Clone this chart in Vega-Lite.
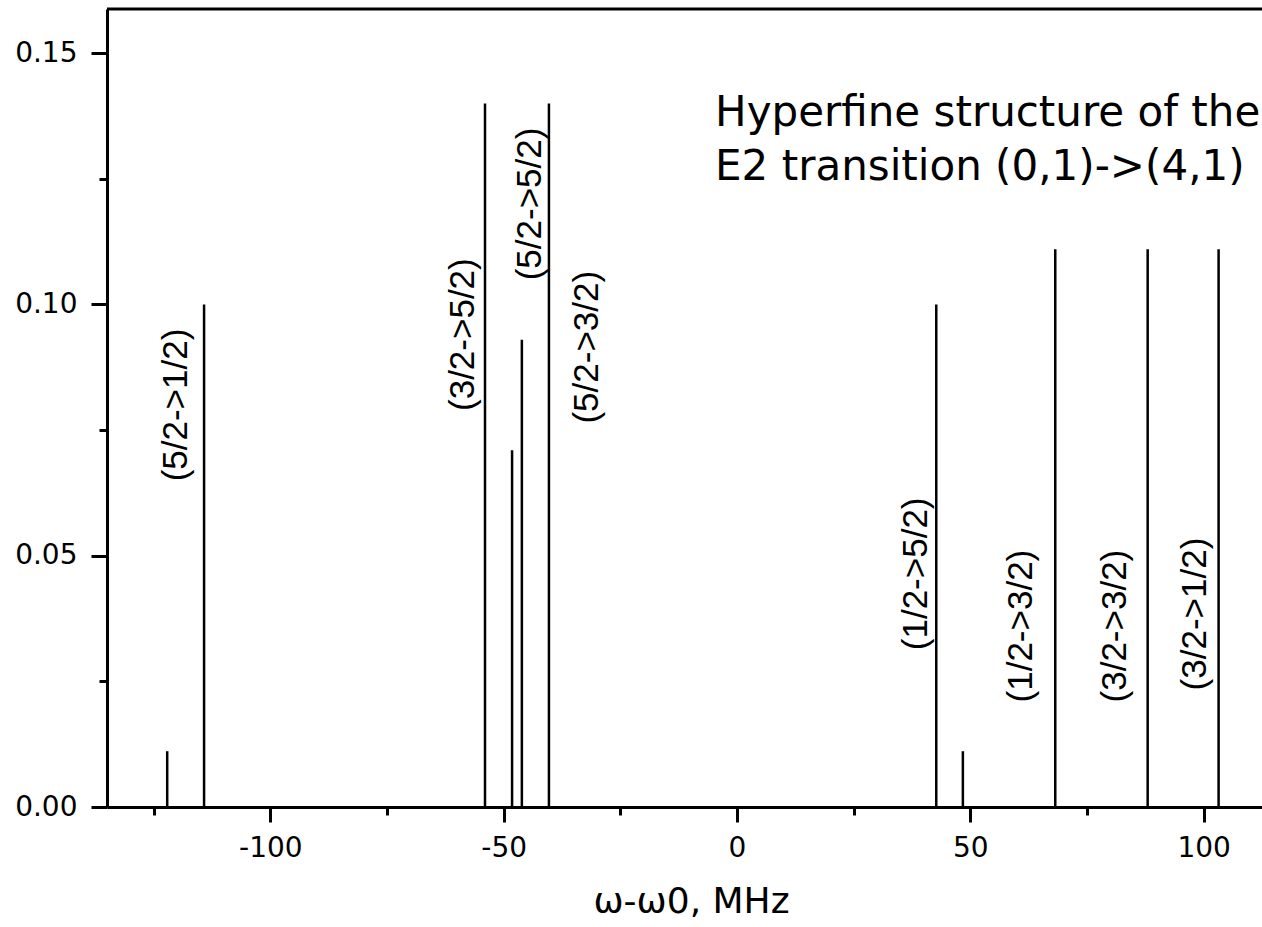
{
  "$schema": "https://vega.github.io/schema/vega-lite/v6.json",
  "width": 1155,
  "height": 798,
  "autosize": {"type": "none"},
  "padding": {"left": 107, "top": 9, "right": 0, "bottom": 120},
  "background": "white",
  "config": {
    "view": {"stroke": null},
    "axis": {"grid": false, "domainColor": "black", "tickColor": "black", "labelColor": "black", "titleColor": "black", "labelFont": "DejaVu Sans", "titleFont": "DejaVu Sans", "tickWidth": 3, "domainWidth": 3}
  },
  "datasets": {
    "lines": [
      {"freq": -122.1, "intensity": 0.0111},
      {"freq": -114.2, "intensity": 0.100},
      {"freq": -54.0, "intensity": 0.140},
      {"freq": -48.2, "intensity": 0.071},
      {"freq": -46.1, "intensity": 0.093},
      {"freq": -40.3, "intensity": 0.140},
      {"freq": 42.7, "intensity": 0.100},
      {"freq": 48.4, "intensity": 0.0111},
      {"freq": 68.2, "intensity": 0.111},
      {"freq": 88.0, "intensity": 0.111},
      {"freq": 103.2, "intensity": 0.111}
    ],
    "labels": [
      {"label": "(5/2->1/2)", "freq": -120.2, "intensity": 0.080},
      {"label": "(3/2->5/2)", "freq": -58.7, "intensity": 0.094},
      {"label": "(5/2->5/2)", "freq": -44.4, "intensity": 0.120},
      {"label": "(5/2->3/2)", "freq": -32.1, "intensity": 0.0915},
      {"label": "(1/2->5/2)", "freq": 38.4, "intensity": 0.0464},
      {"label": "(1/2->3/2)", "freq": 60.9, "intensity": 0.036},
      {"label": "(3/2->3/2)", "freq": 81.0, "intensity": 0.036},
      {"label": "(3/2->1/2)", "freq": 98.1, "intensity": 0.0384}
    ],
    "titles": [
      {"label": "Hyperfine structure of the", "freq": -4.7, "intensity": 0.1356},
      {"label": "E2 transition (0,1)->(4,1)", "freq": -4.7, "intensity": 0.1248}
    ],
    "border": [{"intensity": 0.1588}]
  },
  "layer": [
    {
      "data": {"name": "lines"},
      "mark": {"type": "rule", "color": "black", "strokeWidth": 2.5},
      "encoding": {
        "x": {
          "field": "freq", "type": "quantitative",
          "scale": {"domain": [-135, 112.5], "nice": false, "zero": false},
          "title": "ω-ω0, MHz",
          "axis": {
            "values": [-125, -100, -75, -50, -25, 0, 25, 50, 75, 100],
            "tickSize": {"condition": {"test": "datum.value % 50 === 0", "value": 15}, "value": 8},
            "tickWidth": {"condition": {"test": "datum.value % 50 === 0", "value": 3}, "value": 3},
            "domainWidth": 3,
            "labelExpr": "datum.value % 50 === 0 ? (datum.value < 0 ? '-' + abs(datum.value) : '' + datum.value) : ''",
            "labelFontSize": 28, "labelPadding": 12, "labelOverlap": false, "labelFlush": false, "labelBound": false,
            "titleFontSize": 36, "titleFontWeight": "normal", "titleX": 584, "titleY": 105, "titleAlign": "center", "titleBaseline": "alphabetic"
          }
        },
        "y": {
          "field": "intensity", "type": "quantitative",
          "scale": {"domain": [0, 0.1588], "nice": false, "zero": false},
          "title": null,
          "axis": {
            "values": [0, 0.025, 0.05, 0.075, 0.1, 0.125, 0.15],
            "tickSize": {"condition": {"test": "round(datum.value*1000) % 50 === 0", "value": 16}, "value": 8},
            "tickWidth": {"condition": {"test": "round(datum.value*1000) % 50 === 0", "value": 3}, "value": 3},
            "domainWidth": 3,
            "labelExpr": "round(datum.value*1000) % 50 === 0 ? format(datum.value, '.2f') : ''",
            "labelFontSize": 28, "labelPadding": 14, "labelOverlap": false, "labelFlush": false, "labelBound": false
          }
        },
        "y2": {"datum": 0}
      }
    },
    {
      "data": {"name": "border"},
      "mark": {"type": "rule", "color": "black", "strokeWidth": 3},
      "encoding": {
        "y": {"field": "intensity", "type": "quantitative", "title": null}
      }
    },
    {
      "data": {"name": "labels"},
      "mark": {"type": "text", "angle": 270, "align": "center", "baseline": "middle", "font": "Liberation Sans", "fontSize": 35, "color": "black"},
      "encoding": {
        "x": {"field": "freq", "type": "quantitative", "title": "ω-ω0, MHz"},
        "y": {"field": "intensity", "type": "quantitative", "title": null},
        "text": {"field": "label"}
      }
    },
    {
      "data": {"name": "titles"},
      "mark": {"type": "text", "align": "left", "baseline": "alphabetic", "font": "DejaVu Sans", "fontSize": 42, "color": "black"},
      "encoding": {
        "x": {"field": "freq", "type": "quantitative", "title": "ω-ω0, MHz"},
        "y": {"field": "intensity", "type": "quantitative", "title": null},
        "text": {"field": "label"}
      }
    }
  ]
}
